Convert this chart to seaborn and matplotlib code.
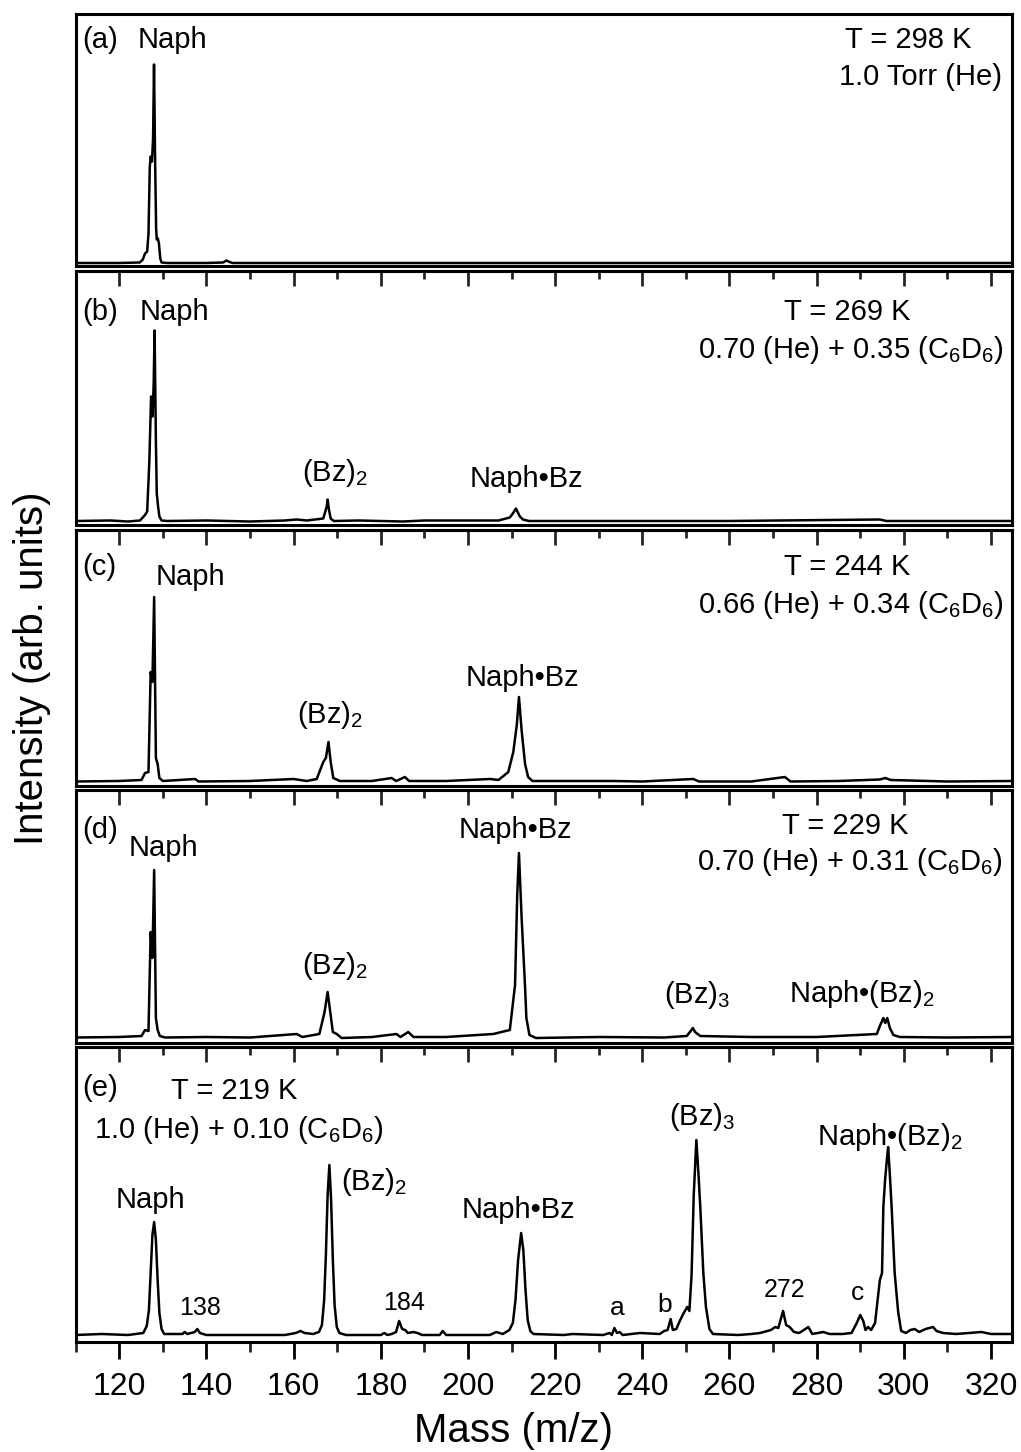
import matplotlib
matplotlib.use("Agg")
import matplotlib.pyplot as plt
import seaborn as sns
from matplotlib.ticker import MultipleLocator

sns.set_theme(style="ticks")
plt.rcParams["font.family"] = ["Liberation Sans", "DejaVu Sans"]
plt.rcParams["mathtext.fontset"] = "custom"
plt.rcParams["mathtext.rm"] = "Liberation Sans"
plt.rcParams["mathtext.default"] = "regular"

# ---------------- data (mass m/z, intensity arb. units) ----------------
mass_a = [110, 120, 124.7, 125.4, 125.9, 126.4, 126.7, 127.0, 127.2, 127.5, 127.75,
          127.97, 128.2, 128.45, 128.6, 128.85, 129.1, 129.4, 129.7, 131, 140,
          143.8, 144.6, 145.3, 146, 160, 200, 250, 300, 325]
inten_a = [0.005, 0.005, 0.01, 0.04, 0.10, 0.12, 0.30, 0.97, 1.07, 1.02, 1.25,
           1.99, 1.10, 0.35, 0.24, 0.25, 0.20, 0.05, 0.01, 0.005, 0.005,
           0.01, 0.03, 0.015, 0.005, 0.005, 0.005, 0.005, 0.005, 0.005]

mass_b = [110, 118, 122, 124.75, 125.9, 126.4, 126.9, 127.3, 127.65, 127.9, 128.1,
          128.4, 128.6, 128.9, 129.2, 129.7, 131, 140, 150, 158, 160.7, 163, 166.8,
          167.6, 167.8, 168.1, 168.5, 169.2, 175, 185, 190, 200, 207, 209.6, 210.3,
          211.0, 211.9, 212.6, 214, 230, 260, 294.5, 296, 325]
inten_b = [0.005, 0.01, 0.0, 0.01, 0.065, 0.10, 0.61, 1.25, 1.05, 1.40, 1.91,
           0.80, 0.28, 0.15, 0.05, 0.01, 0.005, 0.01, 0.0, 0.01, 0.02, 0.01, 0.03,
           0.15, 0.22, 0.12, 0.03, 0.005, 0.01, 0.0, 0.01, 0.01, 0.01, 0.04, 0.08,
           0.13, 0.05, 0.02, 0.005, 0.005, 0.005, 0.02, 0.005, 0.005]

mass_c = [110, 120, 125.1, 125.9, 126.7, 127.2, 127.6, 128.0, 128.4, 128.8, 129.2,
          130.0, 137.4, 138.2, 150, 160, 163, 165.3, 166.8, 167.4, 168.0, 168.5,
          169.1, 170.6, 178, 182.5, 183.5, 185.55, 186.5, 195, 205.1, 207, 209.25,
          210.4, 211.2, 211.7, 212.3, 213.1, 213.8, 214.8, 233.3, 240, 251.7, 253,
          265, 272.7, 274, 285, 294.5, 295.7, 297.0, 310, 325]
inten_c = [0.005, 0.01, 0.02, 0.09, 0.10, 1.10, 1.00, 1.85, 0.24, 0.18, 0.04,
           0.01, 0.03, 0.005, 0.01, 0.03, 0.01, 0.03, 0.20, 0.24, 0.40, 0.20,
           0.04, 0.01, 0.01, 0.04, 0.01, 0.05, 0.01, 0.01, 0.03, 0.02, 0.10,
           0.30, 0.57, 0.85, 0.52, 0.18, 0.05, 0.01, 0.01, 0.005, 0.03, 0.005,
           0.005, 0.05, 0.005, 0.01, 0.025, 0.04, 0.02, 0.005, 0.01]

mass_d = [110, 120, 125.1, 125.9, 126.7, 127.2, 127.6, 128.0, 128.4, 128.8, 129.3,
          130.5, 140, 150, 160.7, 162, 165.9, 167.1, 167.8, 168.4, 169.0, 169.9,
          171.0, 178, 183.6, 184.5, 186.3, 187.5, 195, 205.8, 209.6, 210.8, 211.3,
          211.7, 212.3, 213.1, 213.4, 214.1, 215.6, 230, 245, 250.2, 251.1, 251.6,
          252.1, 253.3, 265, 280, 293.8, 294.5, 295.3, 295.75, 296.2, 296.8, 297.6,
          299.1, 310, 325]
inten_d = [0.005, 0.01, 0.02, 0.08, 0.07, 1.06, 0.80, 1.68, 0.20, 0.08, 0.02,
           0.005, 0.01, 0.005, 0.04, 0.01, 0.04, 0.26, 0.46, 0.26, 0.06, 0.04,
           0.0, 0.01, 0.04, 0.01, 0.06, 0.01, 0.01, 0.04, 0.08, 0.53, 1.43, 1.85,
           1.21, 0.51, 0.20, 0.03, 0.0, 0.01, 0.005, 0.02, 0.07, 0.10, 0.06, 0.02,
           0.01, 0.01, 0.04, 0.12, 0.20, 0.15, 0.20, 0.10, 0.03, 0.01, 0.005, 0.01]

mass_e = [110, 116, 122, 125.5, 126.3, 126.8, 127.2, 127.6, 128.0, 128.4, 128.8,
          129.2, 129.7, 130.3, 134.5, 135.0, 135.6, 136.5, 137.3, 137.9, 138.5,
          140, 150, 158, 160.5, 161.6, 162.5, 164.5, 165.8, 166.5, 167.0, 167.4,
          167.8, 168.2, 168.6, 169.0, 169.4, 169.9, 170.5, 172, 180, 180.8, 181.5,
          182.5, 183.5, 184.2, 184.9, 185.6, 186.2, 187.5, 188.4, 189.5, 193.5,
          194.2, 195.0, 205, 206.5, 208, 209.5, 210.3, 210.9, 211.5, 212.2, 212.7,
          213.2, 213.7, 214.3, 215, 222, 224, 231, 232.5, 233.0, 233.6, 234.2,
          234.8, 235.5, 239.5, 244, 245, 245.8, 246.5, 247.0, 247.8, 248.7, 249.5,
          250.3, 250.8, 251.3, 251.8, 252.4, 252.9, 253.3, 254.0, 254.6, 255.4,
          256.2, 262, 265, 267, 269.5, 270.5, 271.2, 272.3, 273.0, 273.8, 274.8,
          276, 278.1, 279, 281.5, 283, 286, 288, 289.2, 290.0, 290.7, 291.2, 291.8,
          292.5, 293.4, 293.8, 294.5, 295.0, 295.3, 295.7, 296.1, 296.4, 296.8,
          297.2, 297.9, 298.7, 299.4, 300.5, 301.5, 302.5, 303.5, 305, 306.7,
          307.5, 309, 312, 317.8, 320, 325]
inten_e = [0.0, 0.01, 0.0, 0.02, 0.09, 0.25, 0.62, 1.00, 1.13, 0.95, 0.55,
           0.22, 0.06, 0.01, 0.01, 0.03, 0.01, 0.02, 0.03, 0.06, 0.02,
           0.0, 0.0, 0.0, 0.02, 0.04, 0.02, 0.01, 0.03, 0.10, 0.35, 0.80,
           1.40, 1.70, 1.35, 0.75, 0.30, 0.08, 0.02, 0.0, 0.0, 0.02, 0.0,
           0.01, 0.03, 0.14, 0.06, 0.05, 0.02, 0.03, 0.02, 0.0, 0.0,
           0.04, 0.0, 0.0, 0.03, 0.01, 0.05, 0.12, 0.35, 0.75, 1.02, 0.85,
           0.45, 0.15, 0.04, 0.01, 0.0, 0.01, 0.0, 0.02, 0.0, 0.07, 0.02,
           0.03, 0.0, 0.02, 0.01, 0.04, 0.05, 0.16, 0.05, 0.06, 0.15, 0.22,
           0.28, 0.24, 0.60, 1.40, 1.95, 1.60, 1.28, 0.62, 0.28, 0.06,
           0.01, 0.0, 0.01, 0.02, 0.05, 0.08, 0.07, 0.24, 0.10, 0.08, 0.03,
           0.02, 0.08, 0.01, 0.03, 0.01, 0.01, 0.02, 0.12, 0.20, 0.14, 0.05, 0.08,
           0.05, 0.12, 0.28, 0.55, 0.62, 1.28, 1.55, 1.75, 1.88, 1.60,
           1.28, 0.62, 0.23, 0.04, 0.02, 0.05, 0.06, 0.03, 0.06, 0.08,
           0.04, 0.02, 0.01, 0.03, 0.01, 0.01]

panel_tags = ["(a)", "(b)", "(c)", "(d)", "(e)"]
temperatures = ["T = 298 K", "T = 269 K", "T = 244 K", "T = 229 K", "T = 219 K"]
pressures = ["1.0 Torr (He)",
             "0.70 (He) + 0.35 (C$_6$D$_6$)",
             "0.66 (He) + 0.34 (C$_6$D$_6$)",
             "0.70 (He) + 0.31 (C$_6$D$_6$)",
             "1.0 (He) + 0.10 (C$_6$D$_6$)"]
x_ticks = [120, 140, 160, 180, 200, 220, 240, 260, 280, 300, 320]

spectra = [(mass_a, inten_a), (mass_b, inten_b), (mass_c, inten_c),
           (mass_d, inten_d), (mass_e, inten_e)]

# ---------------- layout ----------------
W, H = 1021, 1452
fig = plt.figure(figsize=(W / 100, H / 100), dpi=100)
fig.patch.set_facecolor("white")
x_left, x_right = 75.7, 1011.7
frames = [(14, 266), (271, 525), (530, 786), (790, 1043), (1047, 1342)]
baselines = [263.5, 521.5, 782, 1038, 1335]

FS = 21
axes = []
for i, ((top, bot), base, (mx, it)) in enumerate(zip(frames, baselines, spectra)):
    ax = fig.add_axes([x_left / W, 1 - bot / H, (x_right - x_left) / W, (bot - top) / H])
    ax.set_facecolor("none")
    sns.lineplot(x=mx, y=it, ax=ax, color="black", linewidth=1.8,
                 sort=False, estimator=None)
    ax.set_xlim(110, 324.75)
    ax.set_ylim(-(bot - base) / 100, (base - top) / 100)
    ax.set_yticks([])
    ax.set_xlabel("")
    ax.set_ylabel("")
    for sp in ax.spines.values():
        sp.set_visible(True)
        sp.set_linewidth(2.2)
        sp.set_color("black")
    ax.xaxis.set_major_locator(MultipleLocator(20))
    ax.xaxis.set_minor_locator(MultipleLocator(10))
    if i < 4:
        ax.tick_params(axis="x", which="both", bottom=False, labelbottom=False)
    else:
        ax.set_xticks(x_ticks)
        ax.tick_params(axis="x", which="major", direction="out", length=12.5,
                       width=2, labelsize=23, pad=9, colors="black")
        ax.tick_params(axis="x", which="minor", direction="out", length=7,
                       width=2)
    if i > 0:
        sec = ax.secondary_xaxis("top")
        sec.xaxis.set_major_locator(MultipleLocator(20))
        sec.xaxis.set_minor_locator(MultipleLocator(10))
        sec.tick_params(axis="x", which="major", direction="in", length=11, width=2,
                        labeltop=False)
        sec.tick_params(axis="x", which="minor", direction="in", length=5.5, width=2)
        sec.spines["top"].set_linewidth(2.2)
    axes.append(ax)


def fx(x):
    return (x - x_left) / (x_right - x_left)


def lab(i, xpix, ypix, s, size=FS, ha="center"):
    top, bot = frames[i]
    axes[i].text(fx(xpix), (bot - ypix) / (bot - top), s, transform=axes[i].transAxes,
                 ha=ha, va="center", fontsize=size, color="black")


# panel tags
tag_y = [40, 312, 567, 830, 1088]
for i in range(5):
    lab(i, 82, tag_y[i], panel_tags[i], ha="left")

# conditions
lab(0, 908, 40, temperatures[0])
lab(0, 920, 77, pressures[0])
lab(1, 847, 312, temperatures[1])
lab(1, 851, 350, pressures[1])
lab(2, 847, 567, temperatures[2])
lab(2, 851, 605, pressures[2])
lab(3, 845, 826, temperatures[3])
lab(3, 850, 862, pressures[3])
lab(4, 234, 1091, temperatures[4])
lab(4, 239, 1130, pressures[4])

# peak labels
lab(0, 172, 40, "Naph")
lab(1, 174, 312, "Naph")
lab(1, 335, 473, "(Bz)$_2$")
lab(1, 526, 479, "Naph•Bz")
lab(2, 190, 577, "Naph")
lab(2, 330, 715, "(Bz)$_2$")
lab(2, 522, 678, "Naph•Bz")
lab(3, 163, 848, "Naph")
lab(3, 515, 830, "Naph•Bz")
lab(3, 335, 966, "(Bz)$_2$")
lab(3, 697, 995, "(Bz)$_3$")
lab(3, 862, 994, "Naph•(Bz)$_2$")
lab(4, 150, 1200, "Naph")
lab(4, 374, 1182, "(Bz)$_2$")
lab(4, 518, 1210, "Naph•Bz")
lab(4, 702, 1117, "(Bz)$_3$")
lab(4, 890, 1137, "Naph•(Bz)$_2$")
lab(4, 200, 1308, "138", size=18)
lab(4, 404, 1303, "184", size=18)
lab(4, 785, 1290, "272", size=18)
lab(4, 617, 1308, "a", size=19)
lab(4, 665, 1305, "b", size=19)
lab(4, 857, 1293, "c", size=19)

fig.text(32 / W, 1 - 668 / H, "Intensity (arb. units)", rotation=90,
         ha="center", va="center", fontsize=29, color="black")
fig.text(513 / W, 1 - 1431 / H, "Mass (m/z)", ha="center", va="center",
         fontsize=29, color="black")

fig.savefig("out.png", dpi=100, facecolor="white")
